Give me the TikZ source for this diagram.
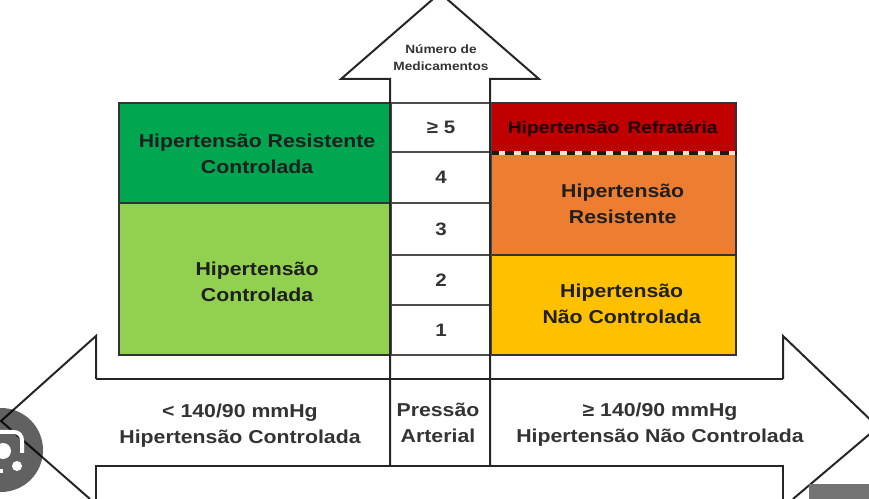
\documentclass[tikz,border=0pt]{standalone}
\usepackage{fontspec}
\setmainfont[FakeStretch=1.14]{Liberation Sans}
\usepackage{xcolor}
\usetikzlibrary{positioning,calc}
\definecolor{darkgreen}{HTML}{00A650}
\definecolor{lightgreen}{HTML}{92D050}
\definecolor{darkred}{HTML}{C00000}
\definecolor{orangebox}{HTML}{ED7D31}
\definecolor{yellowbox}{HTML}{FFC000}
\definecolor{inktext}{HTML}{333333}
\tikzset{
 cellbox/.style={draw=black!70,line width=1.5pt,minimum width=75pt,anchor=north west,inner sep=0pt,font=\bfseries\fontsize{13.5}{15}\selectfont,text=inktext},
 colorbox/.style={draw=black!80,line width=1.6pt,anchor=north west,inner sep=0pt},
 boxtext/.style={align=center,font=\bfseries\fontsize{14}{19.5}\selectfont,text=black!88},
 axislabel/.style={align=center,font=\bfseries\fontsize{14}{19.5}\selectfont,text=inktext},
 arrowline/.style={draw=black!85,line width=1.5pt,line join=miter},
}
\begin{document}
\begin{tikzpicture}[x=0.75pt,y=-0.75pt]
 \useasboundingbox (0,0) rectangle (869,499);
 % color blocks on both sides
 \node[colorbox,fill=darkgreen,minimum width=204pt,minimum height=75pt] (rescontrol) at (118,102) {};
 \node[colorbox,fill=lightgreen,minimum width=204pt,minimum height=114pt] (control) at (118,202) {};
 \node[colorbox,fill=darkred,minimum width=184pt,minimum height=36.75pt] (refrat) at (490,102) {};
 \node[colorbox,fill=orangebox,minimum width=184pt,minimum height=77pt] (resist) at (490,151) {};
 \node[colorbox,fill=yellowbox,minimum width=184pt,minimum height=75pt] (nocontrol) at (490,254) {};
 \node[boxtext] (t1) at ($(rescontrol.center)+(2,1)$) {Hipertensão Resistente\\Controlada};
 \node[boxtext] (t2) at ($(control.center)+(2,3)$) {Hipertensão\\Controlada};
 \node[boxtext,text=black!85!darkred,font=\bfseries\fontsize{12.7}{19.5}\selectfont] (t3) at ($(refrat.center)+(-1,1)$) {Hipertensão\, Refratária};
 \node[boxtext] (t4) at ($(resist.center)+(9,0)$) {Hipertensão\\Resistente};
 \node[boxtext] (t5) at ($(nocontrol.center)+(8,-1)$) {Hipertensão\\Não Controlada};
 \draw[line width=2.6pt,draw=orangebox!25] (refrat.south west) -- (refrat.south east);
 \draw[dash pattern=on 6.5pt off 5pt,line width=2.6pt,draw=black!90] (refrat.south west) -- (refrat.south east);
 % middle column
 \foreach \n/\y/\h/\t in {five/102/36.75/≥ 5,four/151/38.25/4,three/202/39/3,two/254/37.5/2,one/304/37.5/1}
  \node[cellbox,minimum height=\h pt] (\n) at (390,\y) {\t};
 % up arrow
 \coordinate (upl) at (390,79);
 \coordinate (upr) at (490,79);
 \coordinate (upw) at (341,79);
 \coordinate (upe) at (539,79);
 \coordinate (uptip) at (440,-7);
 \coordinate (pl) at (390,466);
 \coordinate (pr) at (490,466);
 \draw[arrowline] (pl) -- (upl) -- (upw) -- (uptip) -- (upe) -- (upr) -- (pr);
 \node[align=center,font=\bfseries\fontsize{9}{12.75}\selectfont,text=inktext] (meds) at (441,58) {Número de\\Medicamentos};
 % horizontal arrow
 \coordinate (al) at (96,379);
 \coordinate (ar) at (783,379);
 \coordinate (bl) at (96,466);
 \coordinate (br) at (783,466);
 \coordinate (alt) at (96,336);
 \coordinate (art) at (783,336);
 \coordinate (ltip) at (1,421);
 \coordinate (rtip) at (878,427);
 \draw[arrowline] (96,499) -- (bl) -- (br) -- (783,499);
 \draw[arrowline] (al) -- (ar);
 \draw[arrowline] (al) -- (alt) -- (ltip) -- (90,499);
 \draw[arrowline] (ar) -- (art) -- (rtip) -- (793,499);
 \node[axislabel] (low) at (240,426) {< 140/90 mmHg\\Hipertensão Controlada};
 \node[axislabel] (press) at (438,423) {Pressão\\Arterial};
 \node[axislabel] (high) at (660,425) {≥ 140/90 mmHg\\Hipertensão Não Controlada};
 % overlays of the screenshot
 \fill[black,opacity=0.62] (1,450) circle (42);
 \draw[white,line width=3pt] (0,432) -- (14,432) arc (-90:0:8) -- (22,453);
 \fill[white] (3,451) circle (8);
 \fill[white] (17,466) circle (5);
 \fill[white] (0,469) rectangle (3,473);
 \fill[black!55] (809,484) rectangle (869,499);
\end{tikzpicture}
\end{document}
